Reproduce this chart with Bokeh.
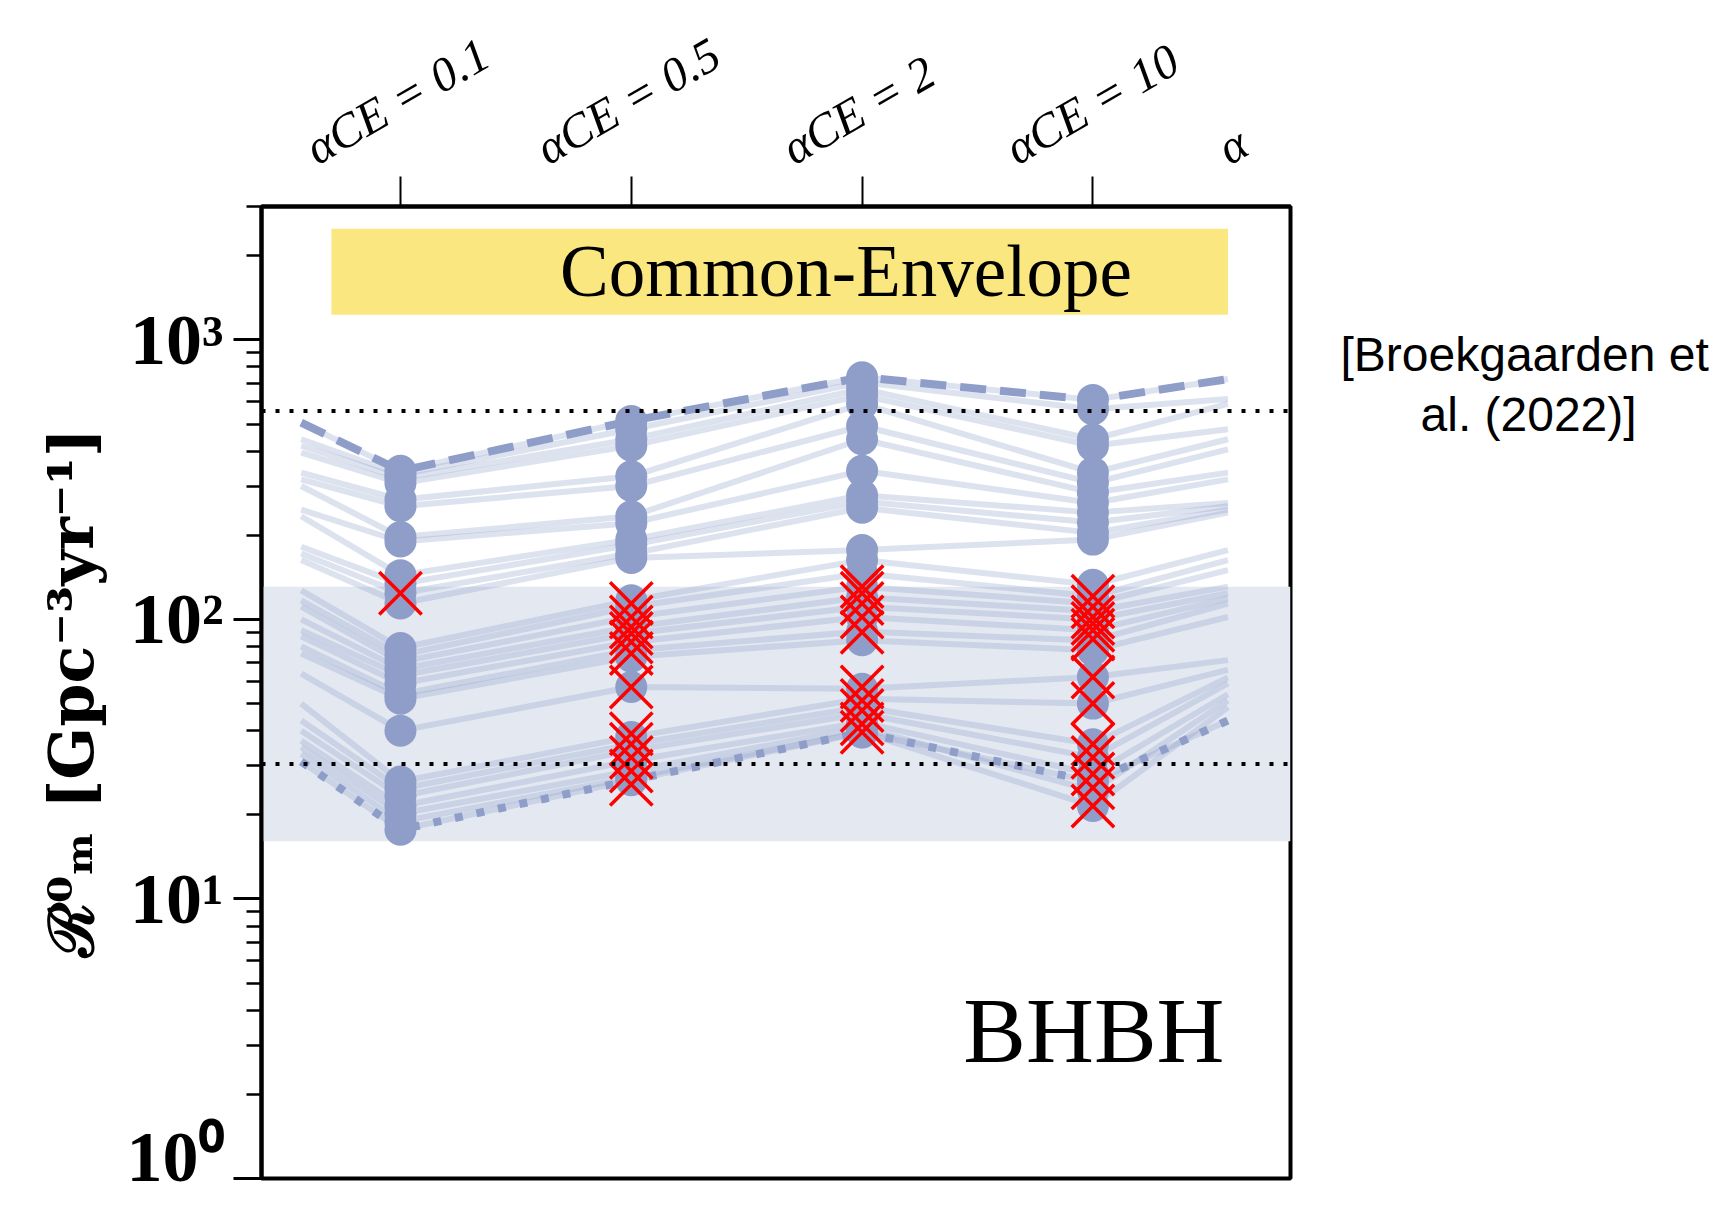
import math
from bokeh.plotting import figure
from bokeh.models import (Range1d, FixedTicker, BoxAnnotation, Span, Label,
                          BasicTickFormatter, LogAxis)
from bokeh.embed import file_html
from bokeh.resources import INLINE

# ---------------- data ----------------
alpha_labels = ["αCE = 0.1", "αCE = 0.5", "αCE = 2", "αCE = 10"]
alpha_pos = [0, 1, 2, 3]
# the panel is a crop of a wider figure: lines enter/leave at these x positions
edge_left_x = -0.43
edge_right_x = 3.585

# 28 model variations, merger rate R0_m [Gpc^-3 yr^-1]
rate_left = [506, 441, 418, 395, 335, 317, 300, 247, 234, 182, 172, 163, 127, 117,
             111, 100, 91.5, 87, 80, 75.5, 64, 50, 43.5, 40, 36.8, 34.9, 33, 31]
rate_a01 = [340, 330, 320, 307, 268, 254, 197, 190, 144, 134, 124, 114, 79, 74.5,
            70.5, 66.5, 63, 59, 54, 52, 40, 26.3, 24.8, 23.3, 21.5, 20.2, 18.9, 17.7]
rate_a05 = [513, 479, 441, 418, 325, 300, 234, 221, 193, 185, 172, 166, 117, 111,
            102, 94, 89, 83, 77.6, 73.5, 57.3, 38, 35.8, 34, 31.2, 28.7, 27.2, 26.6]
rate_a2 = [735, 705, 667, 633, 590, 492, 441, 340, 278, 264, 251, 177, 163, 146,
           131, 120, 111, 102, 90.5, 84.3, 56.5, 52, 48.5, 46, 42.8, 41, 39.5, 39.4]
rate_a10 = [610, 565, 441, 418, 335, 308, 284, 261, 241, 222, 204, 193, 133, 121,
            114, 107, 100, 91.5, 84, 77.6, 62.2, 50, 35.8, 32.1, 28, 24.4, 21.5, 26.3]
rate_right = [724, 614, 590, 479, 441, 406, 335, 317, 261, 254, 247, 241, 177, 163,
              150, 131, 124, 119, 114, 102, 71.5, 66, 62, 59, 54, 51.3, 48.5, 43.5]

# crossed-out points per alpha_CE value
cross_a01 = [124]
cross_a05 = [114, 102, 94, 89, 83, 75.5, 57.3, 39, 35.8, 32.1, 28.7, 25.7]
cross_a2 = [131, 124, 114, 102, 90, 57.3, 51.3, 47.2, 42.3, 39.5]
cross_a10 = [121, 111, 102, 96.7, 91.5, 85, 62.2, 50, 35.8, 32.1, 28, 25, 21.5]

obs_low, obs_high = 16.1, 131      # shaded observed range
ref_low, ref_high = 30.4, 557      # dotted reference lines

y_major = [1, 10, 100, 1000]
y_major_labels = ["10⁰", "10¹", "10²", "10³"]
y_minor = [m * d for d in (1, 10, 100) for m in range(2, 10)] + [2000, 3000]

cite_lines = ["[Broekgaarden et", "al. (2022)]"]
cite_y = [886, 540]

BLUE = "#8f9ec9"
X0, X1 = -0.602, 3.856
PX_PER_X = 1029 / (X1 - X0)

# ---------------- figure ----------------
W, H = 1716, 1196
p = figure(width=W, height=H, output_backend="svg", toolbar_location=None,
           x_range=Range1d(X0, X1), y_range=Range1d(1, 3000),
           y_axis_type="log", x_axis_location="above",
           min_border_left=261, min_border_right=W - 1290, min_border_top=206,
           min_border_bottom=H - 1178)
p.grid.visible = False
p.outline_line_color = "black"
p.outline_line_width = 4
p.background_fill_color = "white"
p.border_fill_color = "white"

# top axis: visible (minor) tick marks at the alpha_CE positions, rotated labels
# on invisible major ticks shifted left so that each label is centred on its tick
ang = math.radians(30)
FS = 48
lab_pos = [xp - ((17 * len(t) + 50) * FS / 54 / 2 + 1) / PX_PER_X
           for xp, t in zip(alpha_pos, alpha_labels)]
cut_pos = 3.557     # first letter of the next, cropped label
lab_ticks = lab_pos + [cut_pos]
lab_text = alpha_labels + ["α"]

xa = p.xaxis[0]
xa.ticker = FixedTicker(ticks=lab_ticks, minor_ticks=alpha_pos)
xa.major_label_overrides = {float(v): t for v, t in zip(lab_ticks, lab_text)}
xa.major_label_orientation = ang
xa.major_label_text_font = "Liberation Serif"
xa.major_label_text_font_style = "italic"
xa.major_label_text_font_size = f"{FS}px"
xa.major_label_text_color = "black"
xa.major_label_standoff = 25
xa.major_tick_out = 30
xa.major_tick_in = 0
xa.major_tick_line_color = None
xa.minor_tick_out = 30
xa.minor_tick_in = 0
xa.minor_tick_line_width = 2
xa.minor_tick_line_color = "black"
xa.axis_line_width = 4
xa.axis_line_color = "black"

# left axis
ya = p.yaxis[0]
ya.ticker = FixedTicker(ticks=y_major, minor_ticks=y_minor)
ya.formatter = BasicTickFormatter()
ya.major_label_overrides = {float(v): t for v, t in zip(y_major, y_major_labels)}
ya.major_label_text_font = "Liberation Serif"
ya.major_label_text_font_style = "bold"
ya.major_label_text_font_size = "72px"
ya.major_label_text_color = "black"
ya.major_label_standoff = 10
ya.major_tick_out = 28
ya.major_tick_in = 0
ya.major_tick_line_width = 3
ya.major_tick_line_color = "black"
ya.minor_tick_out = 15
ya.minor_tick_in = 0
ya.minor_tick_line_width = 2.5
ya.minor_tick_line_color = "black"
ya.axis_line_width = 4
ya.axis_line_color = "black"
ya.axis_label = "ℛ⁰ₘ [Gpc⁻³yr⁻¹]"
ya.axis_label_text_font = "DejaVu Serif"
ya.axis_label_text_font_style = "bold"
ya.axis_label_text_font_size = "62px"
ya.axis_label_text_color = "black"
ya.axis_label_standoff = 16

# right side: citation as horizontal labels of an invisible axis
ra = LogAxis(ticker=FixedTicker(ticks=cite_y))
ra.major_label_overrides = {float(cite_y[0]): cite_lines[0],
                            float(cite_y[1]): "\u00a0" * 6 + cite_lines[1]}
ra.major_label_text_font = "Liberation Sans"
ra.major_label_text_font_size = "48px"
ra.major_label_text_color = "black"
ra.major_label_standoff = 50
ra.axis_line_color = None
ra.major_tick_line_color = None
ra.minor_tick_line_color = None
ra.major_tick_out = 0
ra.major_tick_in = 0
p.add_layout(ra, "right")

# shaded observed range
p.add_layout(BoxAnnotation(bottom=obs_low, top=obs_high, fill_color="#e4e8f1",
                           fill_alpha=1, line_color=None, level="underlay"))

# model lines
x_line = [edge_left_x] + alpha_pos + [edge_right_x]
models = list(zip(rate_left, rate_a01, rate_a05, rate_a2, rate_a10, rate_right))
p.multi_line([x_line] * len(models), [list(m) for m in models],
             line_color=BLUE, line_alpha=0.3, line_width=6)
p.line(x_line, list(models[0]), line_color=BLUE, line_width=8, line_dash="26 14")
p.line(x_line, list(models[-1]), line_color=BLUE, line_width=8, line_dash="8 14")

# points
cols = [rate_a01, rate_a05, rate_a2, rate_a10]
px, py = [], []
for xp, col in zip(alpha_pos, cols):
    px += [xp] * len(col)
    py += col
p.scatter(px, py, size=32, color=BLUE, line_color=None)

cx, cy = [], []
for xp, col in zip(alpha_pos, [cross_a01, cross_a05, cross_a2, cross_a10]):
    cx += [xp] * len(col)
    cy += col
p.scatter(cx, cy, marker="x", size=60, line_color="#ff0000", line_width=3.5)

# reference dotted lines
for loc in (ref_high, ref_low):
    p.add_layout(Span(location=loc, dimension="width", line_color="black",
                      line_width=4, line_dash="4 10"))

# Common-Envelope banner
p.add_layout(BoxAnnotation(left=-0.299, right=edge_right_x, bottom=1230, top=2500,
                           fill_color="#fae77f", fill_alpha=1, line_color=None))
p.add_layout(Label(x=1.93, y=1750, text="Common-Envelope", text_align="center",
                   text_baseline="middle", text_font="Liberation Serif",
                   text_font_size="73px", text_color="black"))

p.add_layout(Label(x=3.57, y=3.41, text="BHBH", text_align="right",
                   text_baseline="middle", text_font="Liberation Serif",
                   text_font_size="94px", text_color="black"))

open("out.html", "w").write(file_html(p, INLINE))
